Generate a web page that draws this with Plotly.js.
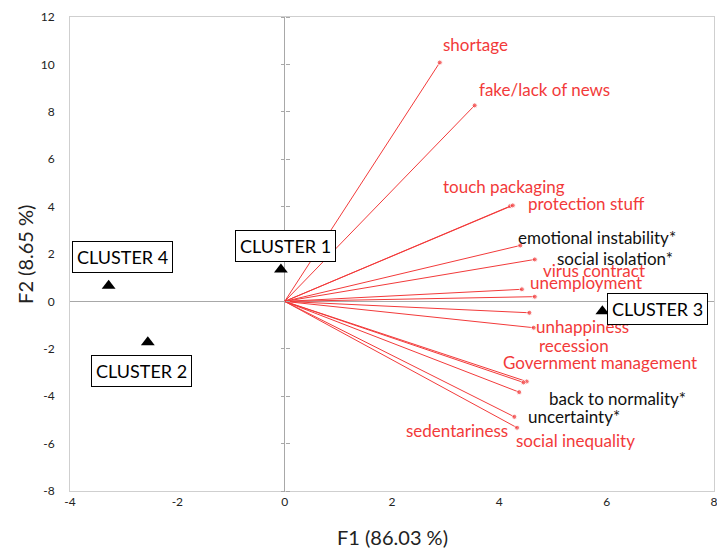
<!DOCTYPE html>
<html>
<head>
<meta charset="utf-8">
<script src="https://cdn.plot.ly/plotly-3.0.1.min.js"></script>
<style>html,body{margin:0;padding:0;background:#fff;}#chart{width:717px;height:551px;}</style>
</head>
<body>
<div id="chart"></div>
<script>
// Variable vectors (loadings) in the F1/F2 plane
var variables = ["shortage","fake/lack of news","touch packaging","protection stuff","emotional instability*","social isolation*","virus contract","unemployment","unhappiness","recession","Government management","back to normality*","uncertainty*","sedentariness","social inequality"];
var varF1 = [2.89, 3.54, 4.20, 4.25, 4.39, 4.66, 4.42, 4.66, 4.56, 4.64, 4.51, 4.45, 4.37, 4.28, 4.33];
var varF2 = [10.08, 8.27, 4.02, 4.05, 2.36, 1.77, 0.51, 0.20, -0.48, -1.11, -3.38, -3.42, -3.83, -4.87, -5.33];
var starred = [false,false,false,false,true,true,false,false,false,false,false,true,true,false,false];

// Cluster centroids
var clusters = ["CLUSTER 1","CLUSTER 2","CLUSTER 3","CLUSTER 4"];
var clusterF1 = [-0.07, -2.55, 5.92, -3.28];
var clusterF2 = [1.35, -1.72, -0.42, 0.66];

var xTicks = [-4,-2,0,2,4,6,8];
var yTicks = [-8,-6,-4,-2,0,2,4,6,8,10,12];

// label placement (data coords, anchor)
var labelPlace = {
  "shortage": [2.91, 10.84, "left"],
  "fake/lack of news": [3.59, 8.95, "left"],
  "touch packaging": [2.92, 4.85, "left"],
  "protection stuff": [4.49, 4.14, "left"],
  "emotional instability*": [4.31, 2.70, "left"],
  "social isolation*": [5.04, 1.79, "left"],
  "virus contract": [4.77, 1.31, "left"],
  "unemployment": [4.53, 0.81, "left"],
  "unhappiness": [4.65, -1.06, "left"],
  "recession": [4.70, -1.88, "left"],
  "Government management": [4.03, -2.56, "left"],
  "back to normality*": [4.89, -4.08, "left"],
  "uncertainty*": [4.50, -4.86, "left"],
  "sedentariness": [4.19, -5.43, "right"],
  "social inequality": [4.28, -5.86, "left"]
};
var clusterPlace = {
  "CLUSTER 1": [0.01, 2.35],
  "CLUSTER 2": [-2.67, -2.95],
  "CLUSTER 3": [6.95, -0.32],
  "CLUSTER 4": [-3.02, 1.86]
};

var RED = "#f23a3a";
var FONT = "Lato, 'Open Sans', sans-serif";

var traces = [];
for (var i = 0; i < variables.length; i++) {
  traces.push({
    x: [0, varF1[i]], y: [0, varF2[i]],
    type: "scatter", mode: "lines+markers",
    line: {color: RED, width: 1},
    marker: {color: RED, size: [0, 5]},
    hoverinfo: "skip", showlegend: false
  });
}
traces.push({
  x: clusterF1, y: clusterF2, type: "scatter", mode: "markers",
  marker: {symbol: "triangle-up", color: "#000", size: 12},
  showlegend: false, hoverinfo: "skip"
});

var annotations = [];
variables.forEach(function (v, i) {
  var p = labelPlace[v];
  annotations.push({
    x: p[0], y: p[1], xref: "x", yref: "y", text: v, showarrow: false,
    xanchor: p[2], yanchor: "middle",
    font: {family: FONT, size: 17, color: starred[i] ? "#111" : RED}
  });
});
clusters.forEach(function (c) {
  var p = clusterPlace[c];
  annotations.push({
    x: p[0], y: p[1], xref: "x", yref: "y", text: c, showarrow: false,
    xanchor: "center", yanchor: "middle",
    font: {family: FONT, size: 18, color: "#000"},
    bgcolor: "#fff", bordercolor: "#000", borderwidth: 1, borderpad: 4
  });
});
annotations.push({
  x: 0.5, y: -0.098, xref: "paper", yref: "paper", text: "F1 (86.03 %)", showarrow: false,
  xanchor: "center", yanchor: "middle", font: {family: FONT, size: 20, color: "#222"}
});
annotations.push({
  x: -0.07, y: 0.5, xref: "paper", yref: "paper", text: "F2 (8.65 %)", showarrow: false,
  textangle: -90, xanchor: "center", yanchor: "middle", font: {family: FONT, size: 20, color: "#222"}
});

var layout = {
  width: 717, height: 551,
  margin: {l: 70, r: 3, t: 17, b: 60},
  paper_bgcolor: "#fff", plot_bgcolor: "#fff",
  showlegend: false,
  xaxis: {
    range: [-4, 8], tickvals: xTicks, ticktext: xTicks.map(String),
    showgrid: false, zeroline: true, zerolinecolor: "#a8a8a8", zerolinewidth: 1,
    showline: true, mirror: true, linecolor: "#cfcfcf", linewidth: 1,
    ticks: "", tickfont: {family: FONT, size: 12, color: "#222"}, ticklabeloverflow: "allow",
    fixedrange: true
  },
  yaxis: {
    range: [-8, 12], tickvals: yTicks, ticktext: yTicks.map(String),
    showgrid: false, zeroline: true, zerolinecolor: "#a8a8a8", zerolinewidth: 1,
    showline: true, mirror: true, linecolor: "#cfcfcf", linewidth: 1,
    ticks: "", tickfont: {family: FONT, size: 12, color: "#222"}, ticklabelstandoff: 12, fixedrange: true
  },
  yaxis2: {
    range: [-8, 12], overlaying: "y", anchor: "free", position: 4 / 12,
    tickvals: yTicks, showticklabels: false, showgrid: false, zeroline: false,
    showline: false, ticks: "outside", ticklen: 4, tickcolor: "#a8a8a8", fixedrange: true
  },
  yaxis3: {
    range: [-8, 12], overlaying: "y", anchor: "free", position: 4 / 12, side: "right",
    tickvals: yTicks, showticklabels: false, showgrid: false, zeroline: false,
    showline: false, ticks: "outside", ticklen: 4, tickcolor: "#a8a8a8", fixedrange: true
  },
  annotations: annotations
};

// helper traces to activate the axes that draw tick marks on the zero line
traces.unshift({x: [0], y: [0], yaxis: "y2", mode: "markers", marker: {size: 0, opacity: 0}, hoverinfo: "skip", showlegend: false});
traces.unshift({x: [0], y: [0], yaxis: "y3", mode: "markers", marker: {size: 0, opacity: 0}, hoverinfo: "skip", showlegend: false});

Plotly.newPlot("chart", traces, layout, {displayModeBar: false, staticPlot: true});
</script>
</body>
</html>
